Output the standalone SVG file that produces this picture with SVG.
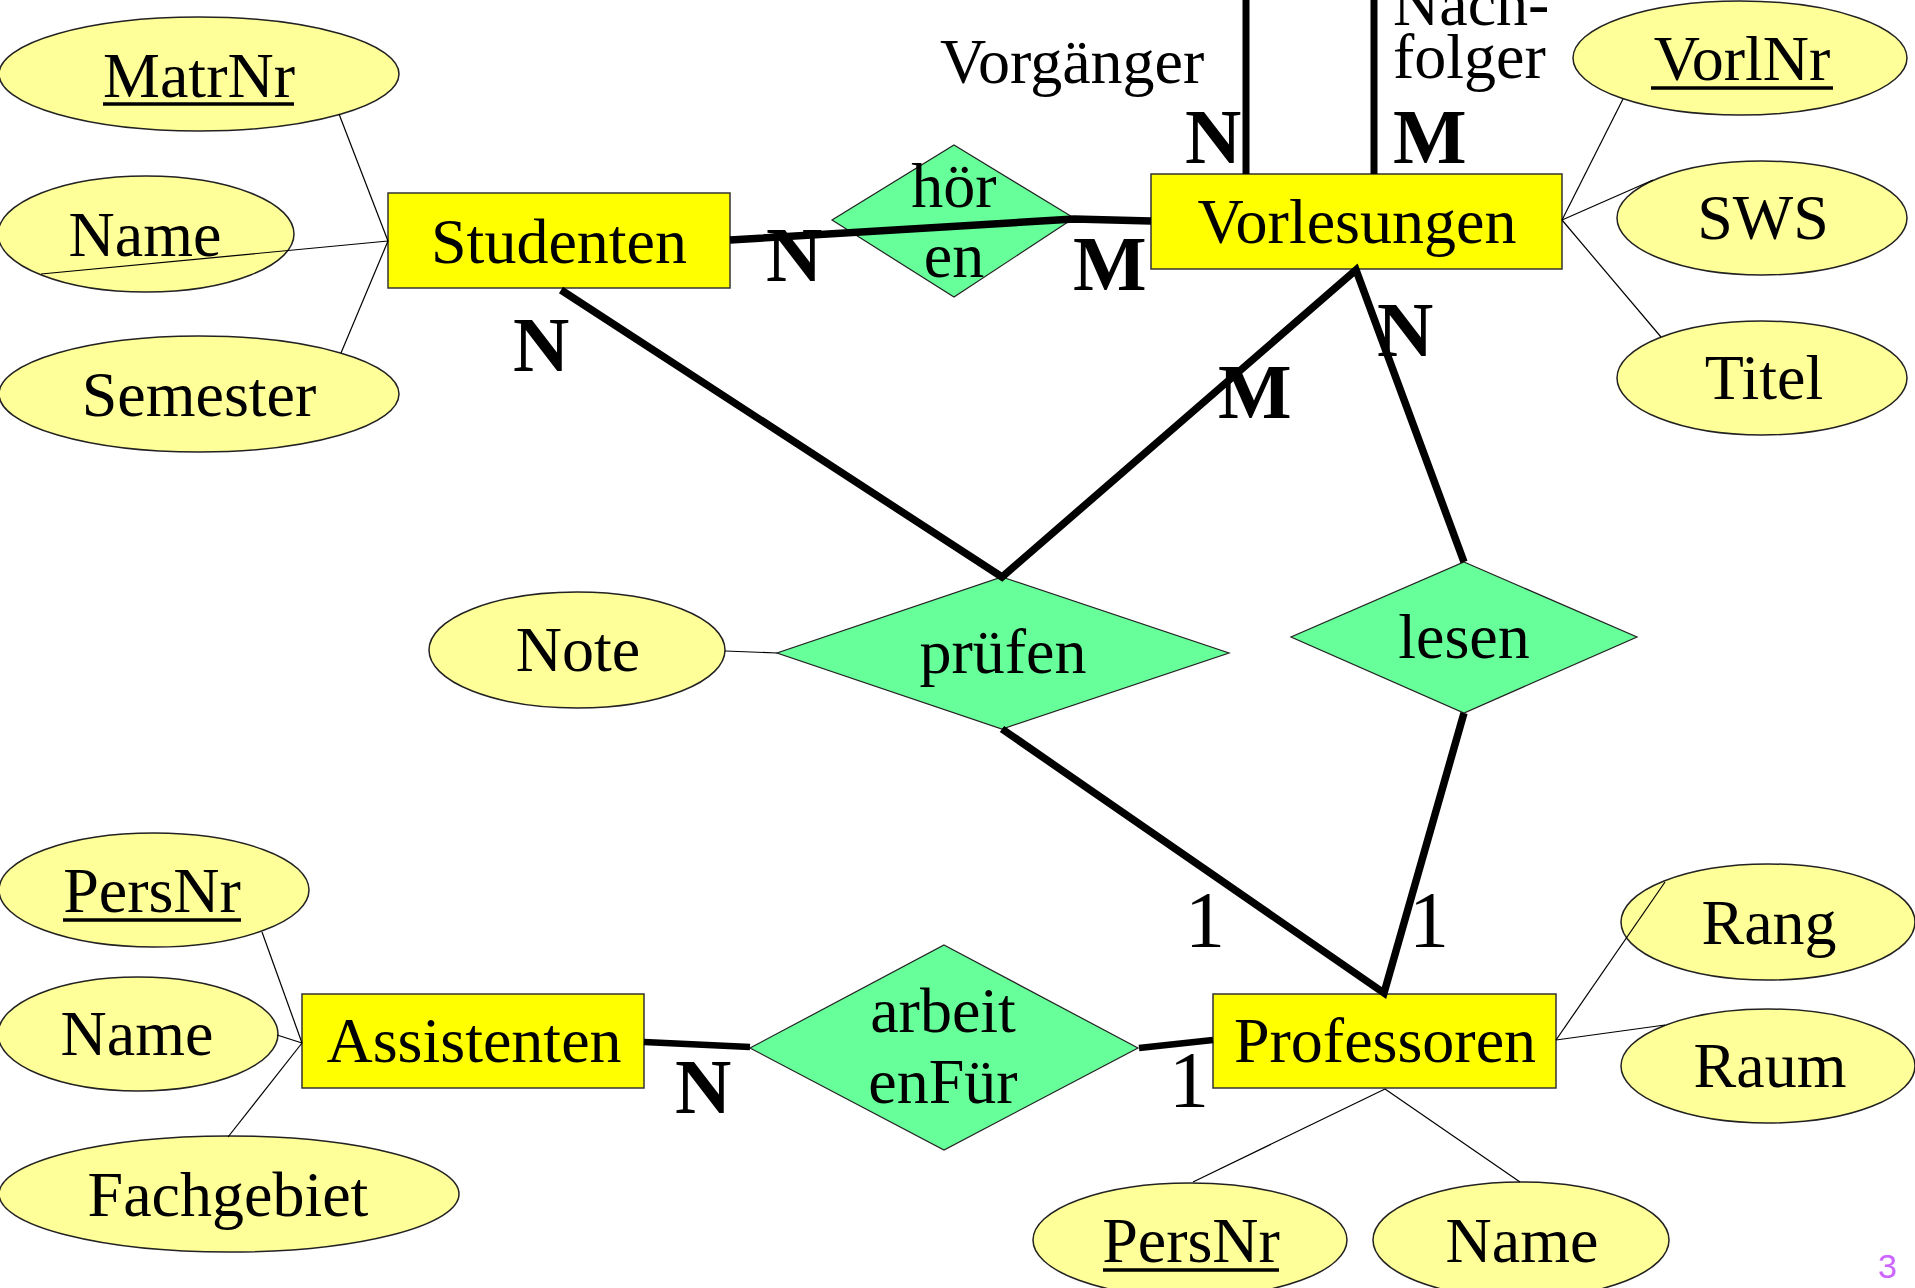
<svg xmlns="http://www.w3.org/2000/svg" width="1915" height="1288" viewBox="0 0 1915 1288">
<style>
.ent{fill:#FFFF00;stroke:#333;stroke-width:1.5}
.attr{fill:#FFFF99;stroke:#222;stroke-width:1.5}
.rel{fill:#66FF99;stroke:#222;stroke-width:1.2}
text{font-family:"Liberation Serif","Times New Roman",serif;font-size:64px;fill:#000}
.c{text-anchor:middle}
.card{font-weight:bold;font-size:78px}
.one{font-size:80px;text-anchor:middle}
.thin{stroke:#000;stroke-width:1.2;fill:none}
.thick{stroke:#000;stroke-width:7.5;fill:none;stroke-linejoin:miter}
.ul{stroke:#000;stroke-width:3.5}
.pg{font-family:"Liberation Sans",Arial,sans-serif;font-size:34px;fill:#CC66FF}
</style>
<rect width="1915" height="1288" fill="#fff"/>

<g id="Studenten"><rect class="ent" x="388" y="193" width="342" height="95"/><text class="c" x="559" y="263">Studenten</text></g>
<g id="Vorlesungen"><rect class="ent" x="1151" y="174" width="411" height="95"/><text class="c" x="1357" y="243">Vorlesungen</text></g>
<g id="Assistenten"><rect class="ent" x="302" y="994" width="342" height="94"/><text class="c" x="474" y="1062">Assistenten</text></g>
<g id="Professoren"><rect class="ent" x="1213" y="994" width="343" height="94"/><text class="c" x="1385" y="1062">Professoren</text></g>

<g id="hoeren"><polygon class="rel" points="954,145 1074,218 954,297 832,220"/><text class="c" x="954" y="207">hör</text><text class="c" x="954" y="277">en</text></g>
<g id="pruefen"><polygon class="rel" points="1002,577 1229,653 1002,729 777,653"/><text class="c" x="1003" y="673">prüfen</text></g>
<g id="lesen"><polygon class="rel" points="1464,562 1637,637 1464,713 1291,637"/><text class="c" x="1464" y="658">lesen</text></g>
<g id="arbeitenFuer"><polygon class="rel" points="944,945 1138,1048 944,1150 750,1048"/><text class="c" x="943" y="1032">arbeit</text><text class="c" x="943" y="1103">enFür</text></g>

<g id="MatrNr"><ellipse class="attr" cx="199" cy="74" rx="200" ry="57"/><text class="c" x="199" y="97">MatrNr</text><line class="ul" x1="103" y1="104" x2="294" y2="104"/></g>
<g id="StudName"><ellipse class="attr" cx="146" cy="234" rx="148" ry="58"/><text class="c" x="145" y="256">Name</text></g>
<g id="Semester"><ellipse class="attr" cx="199" cy="394" rx="200" ry="58"/><text class="c" x="199" y="416">Semester</text></g>
<g id="VorlNr"><ellipse class="attr" cx="1740" cy="58" rx="167" ry="57"/><text class="c" x="1742" y="80">VorlNr</text><line class="ul" x1="1651" y1="88" x2="1833" y2="88"/></g>
<g id="SWS"><ellipse class="attr" cx="1762" cy="218" rx="145" ry="57"/><text class="c" x="1763" y="239">SWS</text></g>
<g id="Titel"><ellipse class="attr" cx="1762" cy="378" rx="145" ry="57"/><text class="c" x="1764" y="399">Titel</text></g>
<g id="Note"><ellipse class="attr" cx="577" cy="650" rx="148" ry="58"/><text class="c" x="578" y="671">Note</text></g>
<g id="AssPersNr"><ellipse class="attr" cx="154" cy="890" rx="155" ry="57"/><text class="c" x="152" y="912">PersNr</text><line class="ul" x1="63" y1="920" x2="241" y2="920"/></g>
<g id="AssName"><ellipse class="attr" cx="138" cy="1034" rx="140" ry="57"/><text class="c" x="137" y="1055">Name</text></g>
<g id="Fachgebiet"><ellipse class="attr" cx="229" cy="1194" rx="230" ry="58"/><text class="c" x="228" y="1216">Fachgebiet</text></g>
<g id="Rang"><ellipse class="attr" cx="1768" cy="922" rx="147" ry="58"/><text class="c" x="1769" y="944">Rang</text></g>
<g id="Raum"><ellipse class="attr" cx="1768" cy="1066" rx="147" ry="57"/><text class="c" x="1770" y="1087">Raum</text></g>
<g id="ProfPersNr"><ellipse class="attr" cx="1190" cy="1240" rx="157" ry="57"/><text class="c" x="1191" y="1262">PersNr</text><line class="ul" x1="1103" y1="1270" x2="1279" y2="1270"/></g>
<g id="ProfName"><ellipse class="attr" cx="1521" cy="1240" rx="148" ry="58"/><text class="c" x="1522" y="1262">Name</text></g>

<g id="connectors">
<line class="thin" x1="388" y1="241" x2="339" y2="114"/>
<line class="thin" x1="388" y1="241" x2="41" y2="274"/>
<line class="thin" x1="388" y1="241" x2="341" y2="353"/>
<line class="thin" x1="1562" y1="220" x2="1623" y2="99"/>
<line class="thin" x1="1562" y1="220" x2="1653" y2="180"/>
<line class="thin" x1="1562" y1="220" x2="1661" y2="337"/>
<line class="thin" x1="725" y1="651" x2="777" y2="653"/>
<line class="thin" x1="302" y1="1043" x2="262" y2="932"/>
<line class="thin" x1="302" y1="1043" x2="277" y2="1035"/>
<line class="thin" x1="302" y1="1043" x2="228" y2="1137"/>
<line class="thin" x1="1556" y1="1040" x2="1665" y2="882"/>
<line class="thin" x1="1556" y1="1040" x2="1665" y2="1025"/>
<line class="thin" x1="1385" y1="1089" x2="1193" y2="1182"/>
<line class="thin" x1="1385" y1="1089" x2="1520" y2="1182"/>
<polyline class="thick" points="730,240 1074,219 1151,221"/>
<line class="thick" x1="1246" y1="0" x2="1246" y2="174" style="stroke-width:7"/>
<line class="thick" x1="1374" y1="0" x2="1374" y2="174" style="stroke-width:7"/>
<polyline class="thick" points="561,290 1002,577 1356,270 1464,562"/>
<polyline class="thick" points="1002,729 1384,993 1464,713"/>
<line class="thick" x1="644" y1="1042" x2="750" y2="1047" style="stroke-width:6.5"/>
<line class="thick" x1="1139" y1="1048" x2="1213" y2="1040" style="stroke-width:6.5"/>
</g>

<g id="labels">
<text x="940" y="83">Vorgänger</text>
<text x="1393" y="25">Nach-</text>
<text x="1393" y="78">folger</text>
<text class="card" x="1185" y="163">N</text>
<text class="card" x="1393" y="163">M</text>
<text class="card" x="766" y="281">N</text>
<text class="card" x="1073" y="290">M</text>
<text class="card" x="513" y="371">N</text>
<text class="card" x="1218" y="418">M</text>
<text class="card" x="1377" y="356">N</text>
<text class="card" x="675" y="1113">N</text>
<text class="one" x="1205" y="947">1</text>
<text class="one" x="1429" y="947">1</text>
<text class="one" x="1189" y="1107">1</text>
<text class="pg" x="1878" y="1278">3</text>
</g>
</svg>
